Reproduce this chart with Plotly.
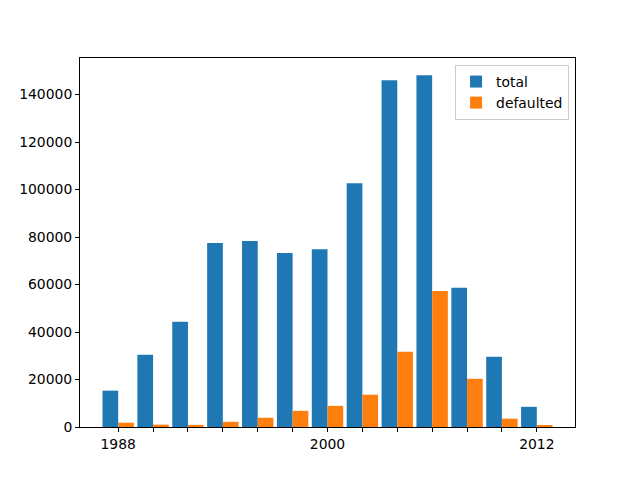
import plotly.graph_objects as go

years = [1988, 1990, 1992, 1994, 1996, 1998, 2000, 2002, 2004, 2006, 2008, 2010, 2012]
total = [15300, 30400, 44300, 77500, 78300, 73300, 74900, 102700, 146000, 148100, 58600, 29600, 8500]
defaulted = [1800, 1000, 900, 2200, 3900, 6800, 8900, 13600, 31700, 57300, 20300, 3500, 500]
tick_labels = [str(y) if (y - 1988) % 12 == 0 else "" for y in years]

idx = list(range(len(years)))

fig = go.Figure()
fig.add_trace(go.Bar(x=idx, y=total, name="total", width=0.45, offset=-0.45,
                     marker=dict(color="#1f77b4", line=dict(width=0))))
fig.add_trace(go.Bar(x=idx, y=defaulted, name="defaulted", width=0.45, offset=0,
                     marker=dict(color="#ff7f0e", line=dict(width=0))))

font = dict(family="DejaVu Sans", size=13.9, color="black")
fig.update_layout(
    width=640, height=480,
    margin=dict(l=72, r=73, t=50, b=61),
    paper_bgcolor="white", plot_bgcolor="white",
    barmode="overlay",
    font=font,
    showlegend=True,
    legend=dict(x=0.988, y=0.981, xanchor="right", yanchor="top",
                bgcolor="rgba(255,255,255,0.8)", bordercolor="#cccccc", borderwidth=1,
                font=dict(family="DejaVu Sans", size=13.9), itemwidth=30),
    xaxis=dict(range=[-1.095, 13.095], tickmode="array", tickvals=idx, ticktext=tick_labels,
               showgrid=False, zeroline=False, showline=True, linecolor="black", linewidth=1,
               mirror=True, ticks="outside", ticklen=4, tickcolor="black", tickwidth=1),
    yaxis=dict(range=[0, 155400], tickmode="array", tickvals=list(range(0, 140001, 20000)),
               ticktext=[str(v) for v in range(0, 140001, 20000)],
               showgrid=False, zeroline=False, showline=True, linecolor="black", linewidth=1,
               mirror=True, ticks="outside", ticklen=4, tickcolor="black", tickwidth=1),
)

fig.write_html("out.html")
